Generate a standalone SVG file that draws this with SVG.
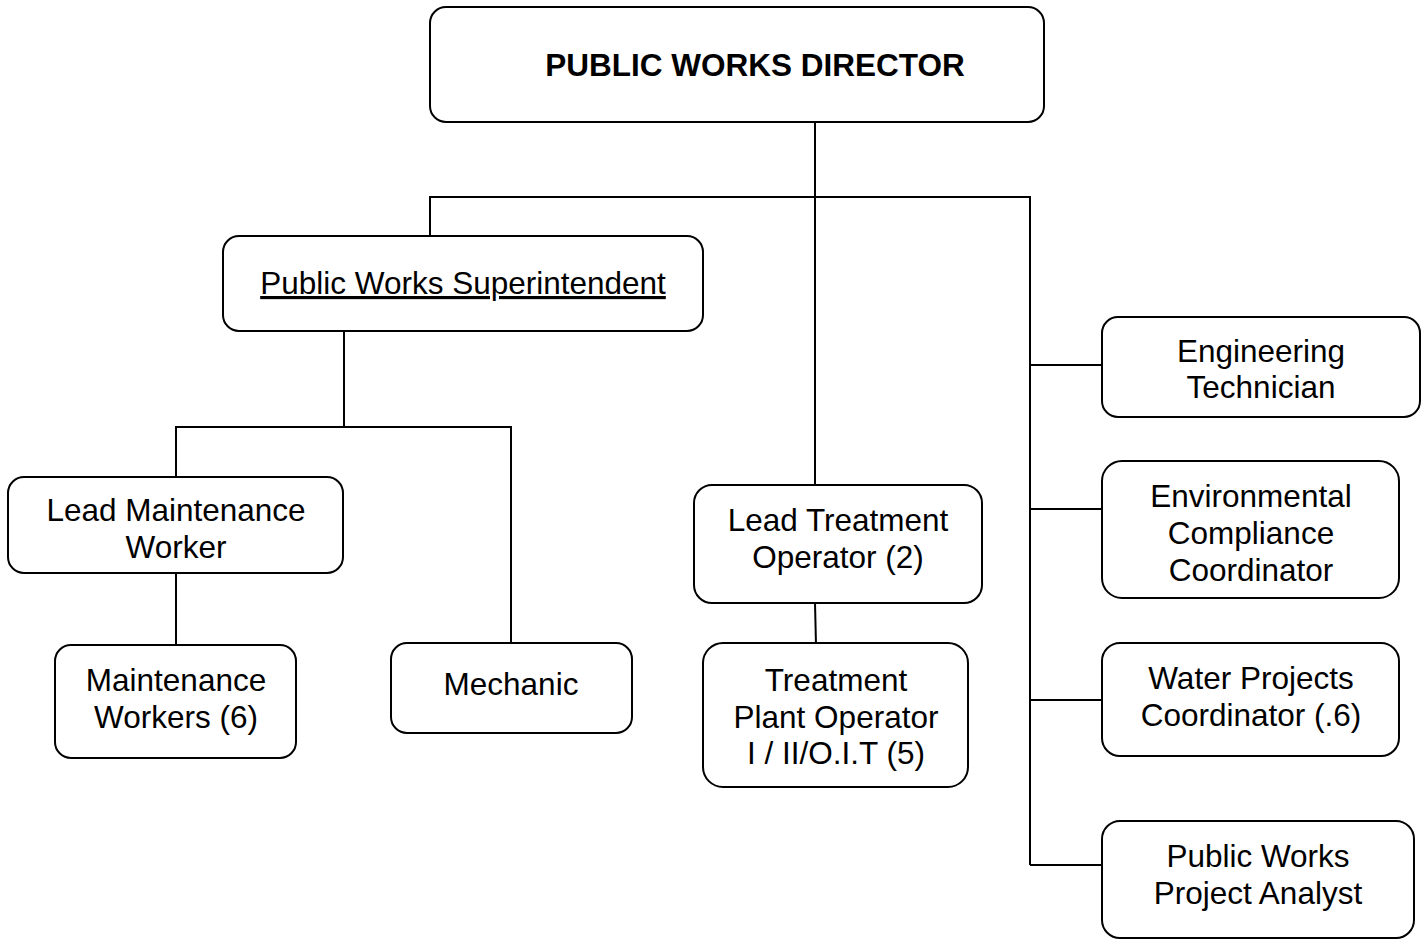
<svg xmlns="http://www.w3.org/2000/svg" width="1424" height="939" viewBox="0 0 1424 939">
<style>
.box{fill:#fff;stroke:#000;stroke-width:2}
.t{font-family:"Liberation Sans",Arial,sans-serif;font-size:31.5px;fill:#000;text-anchor:middle}
.b{font-weight:bold}
.c{fill:none;stroke:#000;stroke-width:2}
</style>
<rect width="1424" height="939" fill="#fff"/>
<g id="connectors">
<path class="c" d="M815 122V485"/>
<path class="c" d="M430 238V197H1030V865"/>
<path class="c" d="M344 331V427"/>
<path class="c" d="M176 477V427H511V643"/>
<path class="c" d="M176 573V645"/>
<path class="c" d="M815 603L816 645"/>
<path class="c" d="M1030 365H1102M1030 509H1102M1030 700H1102M1030 865H1102"/>
</g>
<g id="director">
<rect class="box" x="430" y="7" width="614" height="115" rx="16"/>
<text class="t b" x="755" y="76">PUBLIC WORKS DIRECTOR</text>
</g>
<g id="superintendent">
<rect class="box" x="223" y="236" width="480" height="95" rx="16"/>
<text class="t" x="463" y="294" text-decoration="underline">Public Works Superintendent</text>
</g>
<g id="lead-maintenance">
<rect class="box" x="8" y="477" width="335" height="96" rx="16"/>
<text class="t" x="176" y="521">Lead Maintenance</text>
<text class="t" x="176" y="558">Worker</text>
</g>
<g id="maintenance-workers">
<rect class="box" x="55" y="645" width="241" height="113" rx="16"/>
<text class="t" x="176" y="691">Maintenance</text>
<text class="t" x="176" y="728">Workers (6)</text>
</g>
<g id="mechanic">
<rect class="box" x="391" y="643" width="241" height="90" rx="16"/>
<text class="t" x="511" y="695">Mechanic</text>
</g>
<g id="lead-treatment">
<rect class="box" x="694" y="485" width="288" height="118" rx="18"/>
<text class="t" x="838" y="531">Lead Treatment</text>
<text class="t" x="838" y="568">Operator (2)</text>
</g>
<g id="treatment-plant">
<rect class="box" x="703" y="643" width="265" height="144" rx="20"/>
<text class="t" x="836" y="691">Treatment</text>
<text class="t" x="836" y="728">Plant Operator</text>
<text class="t" x="836" y="764">I / II/O.I.T (5)</text>
</g>
<g id="engineering-technician">
<rect class="box" x="1102" y="317" width="318" height="100" rx="16"/>
<text class="t" x="1261" y="362">Engineering</text>
<text class="t" x="1261" y="398">Technician</text>
</g>
<g id="environmental-compliance">
<rect class="box" x="1102" y="461" width="297" height="137" rx="20"/>
<text class="t" x="1251" y="507">Environmental</text>
<text class="t" x="1251" y="544">Compliance</text>
<text class="t" x="1251" y="581">Coordinator</text>
</g>
<g id="water-projects">
<rect class="box" x="1102" y="643" width="297" height="113" rx="18"/>
<text class="t" x="1251" y="689">Water Projects</text>
<text class="t" x="1251" y="726">Coordinator (.6)</text>
</g>
<g id="project-analyst">
<rect class="box" x="1102" y="821" width="312" height="117" rx="18"/>
<text class="t" x="1258" y="867">Public Works</text>
<text class="t" x="1258" y="904">Project Analyst</text>
</g>
</svg>
